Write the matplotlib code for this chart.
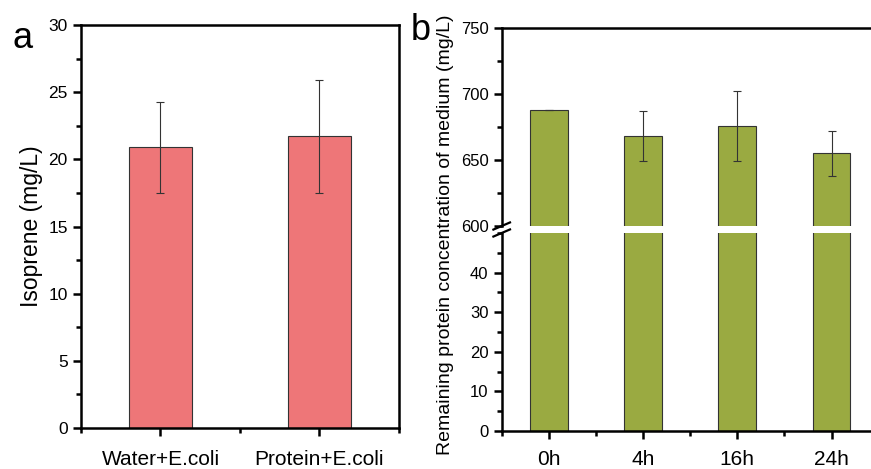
import matplotlib
matplotlib.use("Agg")
import matplotlib.pyplot as plt
from matplotlib.ticker import MultipleLocator

plt.rcParams['font.family'] = ['Liberation Sans', 'DejaVu Sans']

# panel a
groups_a = ['Water+E.coli', 'Protein+E.coli']
isoprene = [20.9, 21.7]
isoprene_err = [3.4, 4.2]

# panel b
times_b = ['0h', '4h', '16h', '24h']
protein = [688, 668, 676, 655]
protein_err = [0, 19, 26.5, 17]

RED = '#EE7678'
GREEN = '#9AAA41'
EDGE = '#333333'
LW = 1.8


def style_ax(ax):
    for s in ax.spines.values():
        s.set_linewidth(LW)
    ax.tick_params(which='major', length=6, width=LW, direction='out')
    ax.tick_params(which='minor', length=3.5, width=LW, direction='out')


fig = plt.figure(figsize=(8.71, 4.69), dpi=100)

# ---- panel a ----
ax_a = fig.add_axes([0.093, 0.0874, 0.365, 0.8593])
xa = range(len(groups_a))
ax_a.bar(xa, isoprene, width=0.4, color=RED, edgecolor=EDGE, linewidth=0.8, zorder=2)
ax_a.errorbar(xa, isoprene, yerr=isoprene_err, fmt='none', ecolor='#333333',
              elinewidth=0.8, capsize=3, capthick=0.8, zorder=3)
ax_a.set_xlim(-0.5, 1.5)
ax_a.set_ylim(0, 30)
ax_a.yaxis.set_major_locator(MultipleLocator(5))
ax_a.yaxis.set_minor_locator(MultipleLocator(2.5))
ax_a.set_xticks(list(xa))
ax_a.set_xticklabels(groups_a, fontsize=15)
ax_a.set_xticks([-0.5, 0.5, 1.5], minor=True)
ax_a.tick_params(axis='y', labelsize=12.5)
ax_a.set_ylabel('Isoprene (mg/L)', fontsize=16.5, labelpad=4)
style_ax(ax_a)
ax_a.tick_params(axis='x', which='both', pad=10)
fig.text(0.014, 0.955, 'a', fontsize=26, va='top', ha='left')

# ---- panel b (broken y axis) ----
left_b = 0.576
width_b = 0.4328
ax_top = fig.add_axes([left_b, 0.5181, width_b, 0.4222])
ax_bot = fig.add_axes([left_b, 0.081, width_b, 0.4222])
xb = range(len(times_b))
for ax in (ax_top, ax_bot):
    ax.bar(xb, protein, width=0.4, color=GREEN, edgecolor=EDGE, linewidth=0.8, zorder=2)
    ax.set_xlim(-0.5, 3.5)
    style_ax(ax)
ax_top.errorbar(xb, protein, yerr=protein_err, fmt='none', ecolor='#333333',
                elinewidth=0.8, capsize=3, capthick=0.8, zorder=3)
ax_top.set_ylim(600, 750)
ax_top.yaxis.set_major_locator(MultipleLocator(50))
ax_top.yaxis.set_minor_locator(MultipleLocator(25))
ax_top.spines['bottom'].set_visible(False)
ax_top.tick_params(axis='x', which='both', bottom=False, labelbottom=False)
ax_top.tick_params(axis='y', labelsize=12)

ax_bot.set_ylim(0, 50)
ax_bot.set_yticks([0, 10, 20, 30, 40])
ax_bot.yaxis.set_minor_locator(MultipleLocator(5))
ax_bot.spines['top'].set_visible(False)
ax_bot.set_xticks(list(xb))
ax_bot.set_xticklabels(times_b, fontsize=15)
ax_bot.set_xticks([-0.5, 0.5, 1.5, 2.5], minor=True)
ax_bot.tick_params(axis='y', labelsize=12)
ax_bot.tick_params(axis='x', which='both', pad=8)

# break marks on left spine
dx, dy = 0.022, 0.018
kw = dict(color='black', linewidth=1.6, clip_on=False)
ax_top.plot([-dx, dx], [-dy, dy], transform=ax_top.transAxes, **kw)
ax_bot.plot([-dx, dx], [1 - dy, 1 + dy], transform=ax_bot.transAxes, **kw)

fig.text(0.511, 0.5, 'Remaining protein concentration of medium (mg/L)',
         rotation=90, fontsize=14, va='center', ha='center')
fig.text(0.472, 0.973, 'b', fontsize=26, va='top', ha='left')

fig.savefig('out.png', dpi=100)
